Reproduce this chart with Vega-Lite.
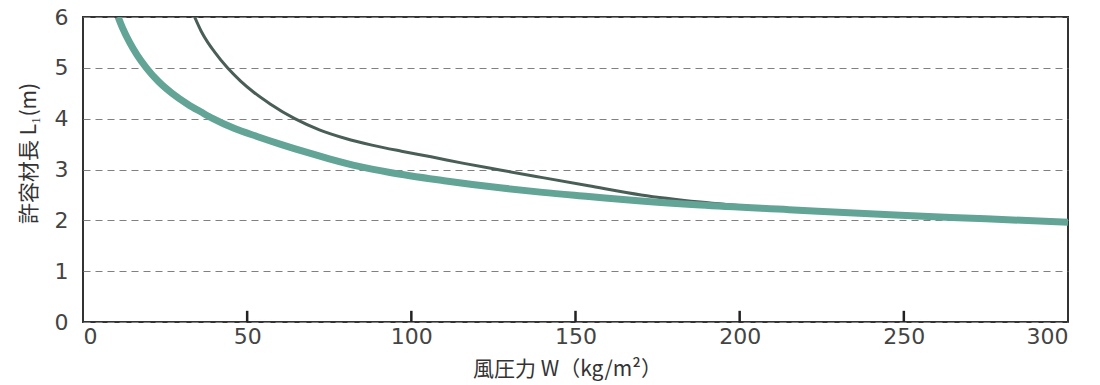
{
  "$schema": "https://vega.github.io/schema/vega-lite/v6.json",
  "width": 985,
  "height": 305,
  "autosize": {"type": "none"},
  "padding": {"left": 83, "top": 17, "right": 32, "bottom": 63},
  "background": "white",
  "config": {
    "view": {"stroke": "#333333", "strokeWidth": 2},
    "axis": {
      "labelFont": "DejaVu Sans",
      "labelFontSize": 22,
      "labelColor": "#444444",
      "titleFont": "Noto Sans CJK JP",
      "titleFontSize": 21,
      "titleFontWeight": "normal",
      "titleColor": "#333333",
      "domain": false
    }
  },
  "datasets": {
    "ticks": [{"W": 50}, {"W": 100}, {"W": 150}, {"W": 200}, {"W": 250}],
    "dark": [
      {"W": 34, "L": 6.0}, {"W": 36, "L": 5.72}, {"W": 38, "L": 5.5}, {"W": 40, "L": 5.32},
      {"W": 44, "L": 5.0}, {"W": 48, "L": 4.74}, {"W": 52, "L": 4.52}, {"W": 57, "L": 4.29},
      {"W": 64.5, "L": 4.0}, {"W": 72, "L": 3.78}, {"W": 80, "L": 3.61}, {"W": 88, "L": 3.48},
      {"W": 97, "L": 3.36}, {"W": 106, "L": 3.25}, {"W": 116, "L": 3.12}, {"W": 127, "L": 2.99},
      {"W": 140, "L": 2.84}, {"W": 154, "L": 2.68}, {"W": 170, "L": 2.5}, {"W": 188, "L": 2.36},
      {"W": 210, "L": 2.24}, {"W": 230, "L": 2.15}, {"W": 250, "L": 2.08}, {"W": 275, "L": 2.02},
      {"W": 300, "L": 1.97}
    ],
    "teal": [
      {"W": 10.7, "L": 6.0}, {"W": 12, "L": 5.79}, {"W": 14.2, "L": 5.5}, {"W": 16.5, "L": 5.25},
      {"W": 19.3, "L": 5.0}, {"W": 23, "L": 4.73}, {"W": 27.1, "L": 4.5}, {"W": 32, "L": 4.28},
      {"W": 36, "L": 4.13}, {"W": 39.6, "L": 4.0}, {"W": 46, "L": 3.81}, {"W": 53, "L": 3.65},
      {"W": 60, "L": 3.5}, {"W": 68, "L": 3.34}, {"W": 75, "L": 3.21}, {"W": 84, "L": 3.06},
      {"W": 93.5, "L": 2.94}, {"W": 110, "L": 2.78}, {"W": 127, "L": 2.64}, {"W": 140, "L": 2.55},
      {"W": 154, "L": 2.47}, {"W": 170, "L": 2.38}, {"W": 188, "L": 2.3}, {"W": 215, "L": 2.21},
      {"W": 249, "L": 2.1}, {"W": 275, "L": 2.03}, {"W": 300, "L": 1.96}
    ]
  },
  "encoding": {
    "x": {
      "field": "W", "type": "quantitative",
      "scale": {"domain": [0, 300], "nice": false},
      "axis": {
        "values": [0, 50, 100, 150, 200, 250, 300],
        "title": "風圧力 W（kg/m²）",
        "grid": false,
        "ticks": false,
        "labelPadding": 4,
        "titleX": 484,
        "titleY": 47,
        "titleBaseline": "middle"
      }
    }
  },
  "layer": [
    {
      "data": {"name": "dark"},
      "mark": {"type": "line", "interpolate": "monotone", "color": "#4a5e58", "strokeWidth": 3, "clip": true},
      "encoding": {
        "y": {
          "field": "L", "type": "quantitative",
          "scale": {"domain": [0, 6], "nice": false},
          "axis": {
            "values": [0, 1, 2, 3, 4, 5, 6],
            "title": "許容材長 L₁(m)",
            "grid": true,
            "gridDash": [7, 5],
            "gridColor": "#808080",
            "gridWidth": 1.2,
            "ticks": false,
            "labelPadding": 15,
            "titleAngle": -90,
            "titleX": -54,
            "titleY": 136,
            "titleBaseline": "middle",
            "titleAlign": "center"
          }
        }
      }
    },
    {
      "data": {"name": "teal"},
      "mark": {"type": "line", "interpolate": "monotone", "color": "#62a496", "strokeWidth": 7, "clip": true},
      "encoding": {"y": {"field": "L", "type": "quantitative"}}
    },
    {
      "data": {"name": "ticks"},
      "mark": {"type": "rule", "color": "#222222", "strokeWidth": 2.5, "opacity": 1},
      "encoding": {
        "y": {"datum": 0, "type": "quantitative"},
        "y2": {"datum": 0.22}
      }
    }
  ]
}
